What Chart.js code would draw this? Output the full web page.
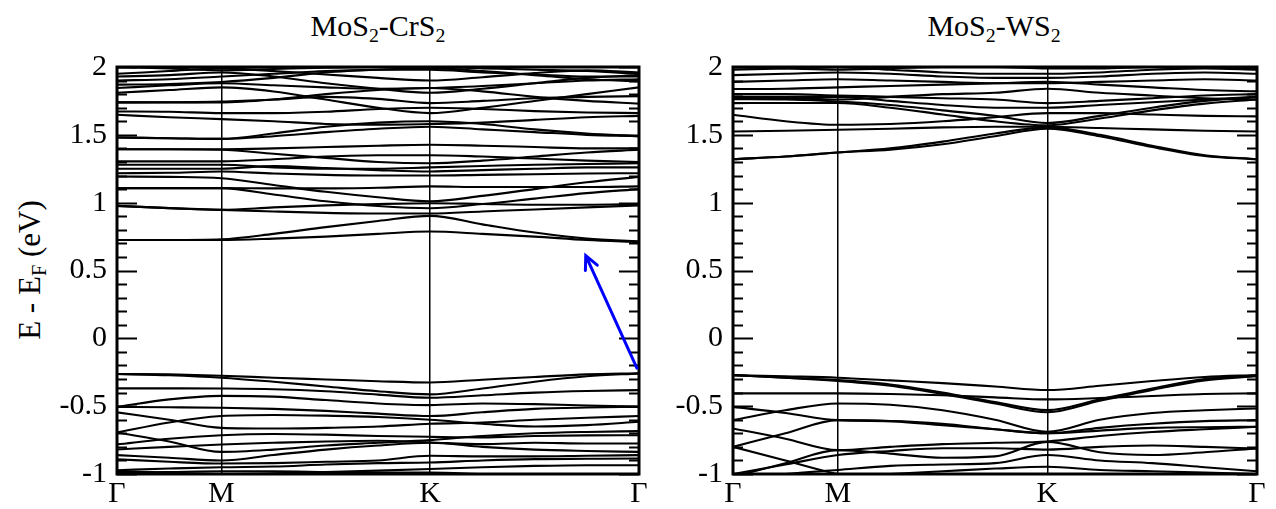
<!DOCTYPE html>
<html>
<head>
<meta charset="utf-8">
<script src="https://cdn.jsdelivr.net/npm/chart.js@4.4.1/dist/chart.umd.min.js"></script>
<style>
  body { margin: 0; width: 1276px; height: 509px; background: #fff; position: relative; overflow: hidden;
         font-family: "Liberation Serif", "Times New Roman", serif; }
  canvas { position: absolute; top: 0; }
  .title { position: absolute; top: 11px; font-size: 30px; line-height: 30px; text-align: center; white-space: nowrap; }
  .title sub, .ylab sub { font-size: 0.66em; vertical-align: -0.32em; line-height: 0; }
  .ylab { position: absolute; left: 29px; top: 270px; font-size: 31px; line-height: 31px; white-space: nowrap;
          transform: translate(-50%, -50%) rotate(-90deg); }
</style>
</head>
<body>
<div class="title" style="left:117px;width:522px">MoS<sub>2</sub>-CrS<sub>2</sub></div>
<div class="title" style="left:733px;width:522px">MoS<sub>2</sub>-WS<sub>2</sub></div>
<div class="ylab">E - E<sub>F</sub> (eV)</div>
<canvas id="left" width="650" height="509" style="left:0"></canvas>
<canvas id="right" width="626" height="509" style="left:650px"></canvas>
<script>
// k-path sample positions: Γ, ½ΓM, M, ¼MK .. ¾MK, K, ¼KΓ .. ¾KΓ, Γ
const kPath = [0, 0.5, 1, 1.5, 2, 2.5, 3, 3.5, 4, 4.5, 5];
const kTicks = [0, 1, 3, 5];
const kLabels = ['Γ', 'M', 'K', 'Γ'];

// MoS2-CrS2 bands (eV)
const crs2Valence = [
  [-0.263, -0.266, -0.276, -0.29, -0.303, -0.316, -0.325, -0.305, -0.285, -0.266, -0.258],
  [-0.263, -0.272, -0.29, -0.32, -0.355, -0.39, -0.413, -0.37, -0.32, -0.28, -0.258],
  [-0.369, -0.369, -0.37, -0.375, -0.39, -0.415, -0.438, -0.42, -0.40, -0.388, -0.382],
  [-0.505, -0.45, -0.424, -0.43, -0.455, -0.48, -0.492, -0.48, -0.485, -0.495, -0.505],
  [-0.505, -0.508, -0.512, -0.52, -0.535, -0.555, -0.573, -0.545, -0.52, -0.51, -0.505],
  [-0.546, -0.60, -0.66, -0.665, -0.66, -0.65, -0.63, -0.62, -0.60, -0.585, -0.573],
  [-0.694, -0.62, -0.573, -0.565, -0.57, -0.58, -0.60, -0.63, -0.65, -0.64, -0.615],
  [-0.694, -0.76, -0.837, -0.82, -0.79, -0.77, -0.75, -0.72, -0.70, -0.69, -0.684],
  [-0.782, -0.74, -0.714, -0.705, -0.71, -0.72, -0.726, -0.73, -0.72, -0.715, -0.714],
  [-0.819, -0.80, -0.782, -0.77, -0.76, -0.755, -0.768, -0.78, -0.77, -0.775, -0.775],
  [-0.861, -0.88, -0.90, -0.86, -0.82, -0.79, -0.77, -0.80, -0.82, -0.83, -0.837],
  [-0.891, -0.91, -0.923, -0.92, -0.91, -0.90, -0.866, -0.87, -0.87, -0.865, -0.861],
  [-0.972, -0.96, -0.95, -0.945, -0.93, -0.92, -0.915, -0.90, -0.89, -0.888, -0.886],
  [-0.98, -0.99, -1.0, -0.995, -0.985, -0.975, -0.963, -0.95, -0.94, -0.935, -0.935],
  [-0.99, -0.985, -0.98, -0.98, -0.985, -0.99, -0.99, -1.0, -1.01, -1.02, -1.02]
];
const crs2Conduction = [
  [0.725, 0.725, 0.725, 0.735, 0.75, 0.77, 0.787, 0.77, 0.75, 0.725, 0.71],
  [0.725, 0.725, 0.73, 0.77, 0.82, 0.865, 0.903, 0.84, 0.78, 0.735, 0.715],
  [0.976, 0.96, 0.947, 0.935, 0.925, 0.92, 0.92, 0.935, 0.95, 0.965, 0.98],
  [0.976, 0.96, 0.947, 0.965, 0.98, 0.99, 0.996, 0.99, 0.985, 0.985, 0.99],
  [1.107, 1.107, 1.107, 1.06, 1.01, 0.975, 0.959, 0.99, 1.03, 1.07, 1.10],
  [1.107, 1.107, 1.107, 1.105, 1.105, 1.11, 1.12, 1.115, 1.115, 1.115, 1.12],
  [1.193, 1.19, 1.18, 1.13, 1.08, 1.04, 1.01, 1.05, 1.10, 1.15, 1.19],
  [1.217, 1.22, 1.23, 1.215, 1.205, 1.20, 1.20, 1.205, 1.21, 1.215, 1.217],
  [1.25, 1.25, 1.25, 1.27, 1.255, 1.24, 1.23, 1.24, 1.25, 1.26, 1.26],
  [1.28, 1.28, 1.28, 1.26, 1.25, 1.25, 1.26, 1.27, 1.28, 1.285, 1.29],
  [1.304, 1.304, 1.304, 1.32, 1.34, 1.35, 1.35, 1.34, 1.325, 1.31, 1.30],
  [1.394, 1.394, 1.394, 1.40, 1.41, 1.42, 1.427, 1.42, 1.41, 1.40, 1.40],
  [1.394, 1.394, 1.39, 1.36, 1.33, 1.30, 1.29, 1.31, 1.34, 1.37, 1.39],
  [1.48, 1.475, 1.47, 1.49, 1.52, 1.545, 1.56, 1.54, 1.52, 1.50, 1.49],
  [1.48, 1.475, 1.47, 1.51, 1.56, 1.59, 1.60, 1.58, 1.54, 1.51, 1.49],
  [1.648, 1.63, 1.616, 1.60, 1.58, 1.575, 1.58, 1.59, 1.61, 1.63, 1.64],
  [1.672, 1.67, 1.66, 1.66, 1.67, 1.69, 1.70, 1.69, 1.675, 1.665, 1.66],
  [1.739, 1.739, 1.739, 1.76, 1.80, 1.83, 1.845, 1.82, 1.78, 1.75, 1.73],
  [1.739, 1.74, 1.745, 1.76, 1.78, 1.765, 1.734, 1.75, 1.77, 1.78, 1.785],
  [1.81, 1.83, 1.85, 1.82, 1.76, 1.70, 1.66, 1.70, 1.75, 1.80, 1.85],
  [1.845, 1.865, 1.88, 1.865, 1.85, 1.84, 1.845, 1.86, 1.88, 1.90, 1.91],
  [1.87, 1.875, 1.89, 1.92, 1.96, 1.98, 1.99, 1.97, 1.94, 1.91, 1.895],
  [1.90, 1.91, 1.93, 1.95, 1.97, 1.98, 1.98, 1.96, 1.945, 1.93, 1.93],
  [1.95, 1.97, 1.99, 1.97, 1.945, 1.92, 1.90, 1.925, 1.955, 1.975, 1.96],
  [2.0, 1.99, 1.975, 1.985, 1.995, 2.0, 2.0, 1.99, 1.98, 1.97, 1.95],
  [1.93, 1.94, 1.96, 1.93, 1.88, 1.84, 1.81, 1.84, 1.88, 1.92, 1.94]
];

// MoS2-WS2 bands (eV)
const ws2Valence = [
  [-0.271, -0.28, -0.29, -0.31, -0.33, -0.355, -0.381, -0.35, -0.315, -0.285, -0.271],
  [-0.271, -0.29, -0.308, -0.34, -0.40, -0.47, -0.529, -0.45, -0.37, -0.30, -0.275],
  [-0.271, -0.29, -0.315, -0.35, -0.41, -0.48, -0.545, -0.46, -0.38, -0.31, -0.28],
  [-0.406, -0.406, -0.406, -0.41, -0.42, -0.435, -0.45, -0.44, -0.425, -0.41, -0.406],
  [-0.603, -0.53, -0.48, -0.49, -0.53, -0.60, -0.689, -0.60, -0.55, -0.53, -0.517],
  [-0.505, -0.55, -0.603, -0.61, -0.63, -0.67, -0.70, -0.66, -0.63, -0.61, -0.603],
  [-0.664, -0.74, -0.824, -0.80, -0.78, -0.77, -0.76, -0.72, -0.69, -0.67, -0.652],
  [-0.80, -0.70, -0.603, -0.61, -0.64, -0.67, -0.70, -0.68, -0.66, -0.655, -0.652],
  [-0.80, -0.90, -1.0, -1.05, -1.08, -1.08, -1.05, -1.05, -1.06, -1.07, -1.08],
  [-1.0, -0.93, -0.86, -0.83, -0.81, -0.81, -0.82, -0.80, -0.79, -0.80, -0.812],
  [-1.02, -0.92, -0.824, -0.85, -0.88, -0.87, -0.763, -0.84, -0.86, -0.84, -0.812],
  [-1.05, -1.0, -0.97, -0.94, -0.93, -0.92, -0.86, -0.90, -0.92, -0.95, -0.98],
  [-1.1, -1.05, -1.02, -1.0, -0.98, -0.96, -0.947, -0.97, -0.98, -0.99, -1.0]
];
const ws2Conduction = [
  [1.32, 1.34, 1.37, 1.40, 1.45, 1.51, 1.555, 1.50, 1.42, 1.35, 1.32],
  [1.32, 1.34, 1.37, 1.39, 1.43, 1.49, 1.545, 1.49, 1.41, 1.345, 1.32],
  [1.525, 1.53, 1.537, 1.545, 1.555, 1.56, 1.56, 1.55, 1.54, 1.53, 1.525],
  [1.648, 1.60, 1.574, 1.58, 1.60, 1.63, 1.66, 1.66, 1.65, 1.64, 1.636],
  [1.734, 1.735, 1.735, 1.70, 1.65, 1.60, 1.57, 1.62, 1.68, 1.73, 1.76],
  [1.763, 1.76, 1.746, 1.72, 1.68, 1.64, 1.587, 1.64, 1.70, 1.75, 1.78],
  [1.78, 1.78, 1.78, 1.75, 1.72, 1.70, 1.70, 1.72, 1.74, 1.76, 1.78],
  [1.80, 1.80, 1.79, 1.78, 1.77, 1.76, 1.734, 1.75, 1.77, 1.79, 1.80],
  [1.77, 1.77, 1.76, 1.78, 1.80, 1.81, 1.84, 1.81, 1.79, 1.77, 1.76],
  [1.838, 1.84, 1.85, 1.86, 1.87, 1.88, 1.89, 1.87, 1.85, 1.83, 1.82],
  [1.89, 1.90, 1.91, 1.90, 1.89, 1.88, 1.88, 1.89, 1.90, 1.91, 1.90],
  [1.94, 1.95, 1.96, 1.95, 1.93, 1.92, 1.92, 1.93, 1.95, 1.96, 1.95],
  [1.98, 1.99, 2.0, 1.98, 1.96, 1.95, 1.95, 1.96, 1.98, 1.99, 1.98],
  [2.0, 1.99, 1.98, 1.99, 2.0, 2.0, 1.99, 1.99, 2.0, 2.0, 1.99]
];

// blue arrow in the CrS2 panel, in (k, E) coordinates
const arrowFrom = [4.98, -0.22];
const arrowTo = [4.49, 0.61];

const serif = '"Liberation Serif", "Times New Roman", serif';

function bandSets(bands) {
  return bands.map(b => ({
    data: b.map((e, i) => ({ x: kPath[i], y: e })),
    borderColor: '#000',
    borderWidth: 2.1,
    pointRadius: 0,
    fill: false,
    cubicInterpolationMode: 'monotone'
  }));
}

// thick frame plus inward major/minor ticks on both sides
const frameTicks = {
  id: 'frameTicks',
  afterDatasetsDraw(chart) {
    const { ctx, chartArea: a, scales: { y } } = chart;
    ctx.save();
    ctx.strokeStyle = '#000';
    ctx.lineWidth = 2;
    for (let i = 0; i <= 30; i++) {
      const v = -1 + i * 0.1;
      const py = Math.round(y.getPixelForValue(v)) + 0.5;
      const len = i % 5 === 0 ? 20 : 10;
      ctx.beginPath();
      ctx.moveTo(a.left, py); ctx.lineTo(a.left + len, py);
      ctx.moveTo(a.right, py); ctx.lineTo(a.right - len, py);
      ctx.stroke();
    }
    ctx.lineWidth = 3;
    ctx.strokeRect(a.left, a.top, a.right - a.left, a.bottom - a.top);
    ctx.restore();
  }
};

const arrowPlugin = {
  id: 'arrowPlugin',
  afterDatasetsDraw(chart) {
    const { ctx, scales: { x, y } } = chart;
    const x0 = x.getPixelForValue(arrowFrom[0]), y0 = y.getPixelForValue(arrowFrom[1]);
    const x1 = x.getPixelForValue(arrowTo[0]), y1 = y.getPixelForValue(arrowTo[1]);
    const ang = Math.atan2(y1 - y0, x1 - x0);
    const head = 15;
    ctx.save();
    ctx.strokeStyle = '#0000ff';
    ctx.lineWidth = 3;
    ctx.lineCap = 'round';
    ctx.beginPath();
    ctx.moveTo(x0, y0); ctx.lineTo(x1, y1);
    ctx.moveTo(x1 - head * Math.cos(ang - 0.45), y1 - head * Math.sin(ang - 0.45));
    ctx.lineTo(x1, y1);
    ctx.lineTo(x1 - head * Math.cos(ang + 0.45), y1 - head * Math.sin(ang + 0.45));
    ctx.stroke();
    ctx.restore();
  }
};

function makeChart(id, bands, yWidth, padRight, extra) {
  return new Chart(document.getElementById(id), {
    type: 'line',
    data: { datasets: bandSets(bands) },
    options: {
      responsive: false,
      animation: false,
      events: [],
      layout: { padding: { left: 0, right: padRight, top: 67, bottom: 0 } },
      plugins: { legend: { display: false }, tooltip: { enabled: false } },
      scales: {
        x: {
          type: 'linear', min: 0, max: 5,
          afterBuildTicks: s => { s.ticks = kTicks.map(v => ({ value: v })); },
          afterFit: s => { s.height = 35; },
          border: { display: false },
          grid: {
            drawTicks: false,
            lineWidth: 1.5,
            color: c => (c.tick && (c.tick.value === 1 || c.tick.value === 3)) ? '#000' : 'rgba(0,0,0,0)'
          },
          ticks: {
            autoSkip: false, maxRotation: 0, padding: 2, color: '#000',
            font: { family: serif, size: 30 },
            callback: v => kLabels[kTicks.indexOf(v)]
          }
        },
        y: {
          min: -1, max: 2,
          afterFit: s => { s.width = yWidth; },
          border: { display: false },
          grid: { display: false, drawTicks: false },
          ticks: {
            stepSize: 0.5, padding: 10, color: '#000', font: { family: serif, size: 30 },
            callback: v => String(+v.toFixed(1))
          }
        }
      }
    },
    plugins: [frameTicks].concat(extra)
  });
}

makeChart('left', crs2Valence.concat(crs2Conduction), 117, 11, [arrowPlugin]);
makeChart('right', ws2Valence.concat(ws2Conduction), 83, 19, []);
</script>
</body>
</html>
